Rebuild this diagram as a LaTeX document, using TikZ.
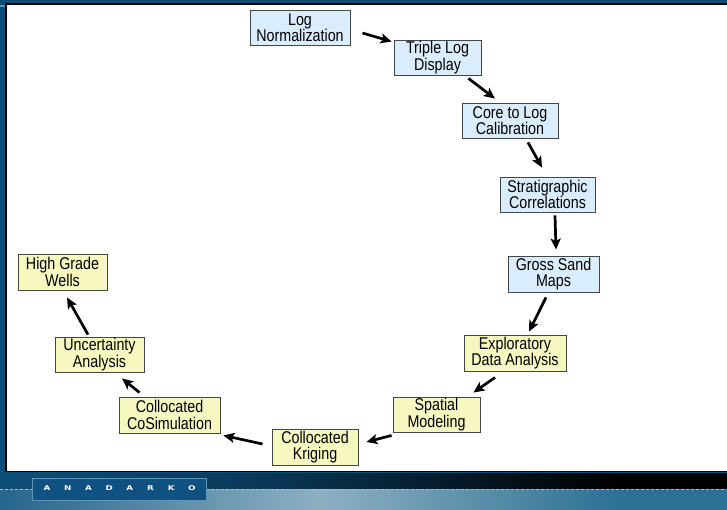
\documentclass[tikz,border=0pt]{standalone}
\usepackage{fontspec}
\setmainfont{Liberation Sans}[FakeStretch=0.84]
\newfontfamily\logofont{DejaVu Sans}[FakeStretch=1.35]
\usetikzlibrary{arrows.meta,calc}
\definecolor{frameblue}{HTML}{0C4D79}
\definecolor{cornerbar}{HTML}{5A90B0}
\definecolor{boxblue}{HTML}{DAEDFD}
\definecolor{boxyellow}{HTML}{F7F7C0}
\definecolor{boxline}{HTML}{454545}
\definecolor{bandA}{HTML}{0D4E77}
\definecolor{bandB}{HTML}{0A3A5A}
\definecolor{bandC}{HTML}{000000}
\definecolor{lowA}{HTML}{25658C}
\definecolor{lowB}{HTML}{8DB0C2}
\definecolor{lowC}{HTML}{2C7194}
\definecolor{dashcol}{HTML}{A2C2D4}
\definecolor{logofill}{HTML}{0F5282}
\definecolor{logoline}{HTML}{6494B4}
\begin{document}
\begin{tikzpicture}[x=1pt,y=-1pt,
  stepbox/.style={draw=boxline, line width=0.9pt, inner sep=0pt, align=center,
    font=\fontsize{17pt}{16.5pt}\selectfont},
  bluebox/.style={stepbox, fill=boxblue},
  yelbox/.style={stepbox, fill=boxyellow},
  arr/.style={line width=2.7pt, -{Stealth[length=11pt,width=10pt,inset=2.5pt]}}]
\useasboundingbox (0,0) rectangle (727,509);
% background
\fill[frameblue] (-3,-3) rectangle (730,512);
\fill[cornerbar] (-3,4.5) rectangle (5,6.5);
% panel
\fill[white] (6,4) rectangle (730,471);
\draw[black, line width=1.6pt] (730,4) -- (6,4) -- (6,471.5) -- (730,471.5);
% lower band: upper dark part
\shade[left color=bandA, right color=bandB] (-3,473) rectangle (250,489);
\shade[left color=bandB, right color=bandC] (250,473) rectangle (620,489);
\fill[bandC] (619.5,473) rectangle (730,489);
% lower band: light part
\shade[left color=lowA, right color=lowB] (-3,489) rectangle (320,512);
\shade[left color=lowB, right color=lowC] (320,489) rectangle (620,512);
\fill[lowC] (619.5,489) rectangle (730,512);
% dashed line
\draw[dashcol, line width=1pt, dash pattern=on 3pt off 2pt] (0,489.5) -- (32,489.5);
\draw[dashcol, line width=1pt, dash pattern=on 3pt off 2pt] (206,489.5) -- (730,489.5);
% logo
\node[draw=logoline, fill=logofill, line width=0.8pt, minimum width=174pt, minimum height=22pt, inner sep=0pt] (logo) at (119,489) {};
\node[inner sep=0pt, text=white] (logotext) at (119.5,488.5)
  {\logofont\bfseries\fontsize{6.5pt}{7pt}\selectfont
   \makebox[20.7pt]{A}\makebox[20.7pt]{N}\makebox[20.7pt]{A}\makebox[20.7pt]{D}\makebox[20.7pt]{A}\makebox[20.7pt]{R}\makebox[20.7pt]{K}\makebox[20.7pt]{O}};
% nodes
\node[bluebox, minimum width=100pt, minimum height=35pt] (LN) at (300,27.5) {Log\\Normalization};
\node[bluebox, minimum width=87pt, minimum height=35pt] (TLD) at (437.5,57.5) {Triple Log\\Display};
\node[bluebox, minimum width=96pt, minimum height=35pt] (CORE) at (510,120.5) {Core to Log\\Calibration};
\node[bluebox, minimum width=95pt, minimum height=35pt] (STRAT) at (547.5,194.5) {Stratigraphic\\Correlations};
\node[bluebox, minimum width=91pt, minimum height=36pt] (GROSS) at (553.5,274) {Gross Sand\\Maps};
\node[yelbox, minimum width=102pt, minimum height=36pt] (EDA) at (515,353) {Exploratory\\Data Analysis};
\node[yelbox, minimum width=87pt, minimum height=35pt] (SPAT) at (436.5,414.5) {Spatial\\Modeling};
\node[yelbox, minimum width=86pt, minimum height=36pt] (KRIG) at (315,447) {Collocated\\Kriging};
\node[yelbox, minimum width=101pt, minimum height=36pt] (COSIM) at (169.5,415) {Collocated\\CoSimulation};
\node[yelbox, minimum width=89pt, minimum height=35pt] (UNC) at (99.5,354.5) {Uncertainty\\Analysis};
\node[yelbox, minimum width=89pt, minimum height=36pt] (HGW) at (62.5,272) {High Grade\\Wells};
% arrows
\draw[arr] ($(LN.east)+(12,5.5)$) -- ($(TLD.north west)+(-2,2)$);
\draw[arr] ($(TLD.south east)+(-13,3)$) -- ($(CORE.north)+(-15,-4)$);
\draw[arr] ($(CORE.south)+(18,4)$) -- ($(STRAT.north)+(-5.5,-9)$);
\draw[arr] ($(STRAT.south)+(7.5,3)$) -- ($(GROSS.north)+(2.5,-6)$);
\draw[arr] ($(GROSS.south)+(-7.5,5)$) -- ($(EDA.north)+(14,-3)$);
\draw[arr] ($(EDA.south)+(-20,6)$) -- ($(SPAT.north east)+(-7,-4)$);
\draw[arr] ($(SPAT.south west)+(-1,3)$) -- ($(KRIG.east)+(8,-5)$);
\draw[arr] ($(KRIG.west)+(-9,-3)$) -- ($(COSIM.south east)+(3,2)$);
\draw[arr] ($(COSIM.north west)+(21,-4)$) -- ($(UNC.south)+(22.5,6)$);
\draw[arr] ($(UNC.north)+(-11.5,-2)$) -- ($(HGW.south)+(4.5,7)$);
\end{tikzpicture}
\end{document}
